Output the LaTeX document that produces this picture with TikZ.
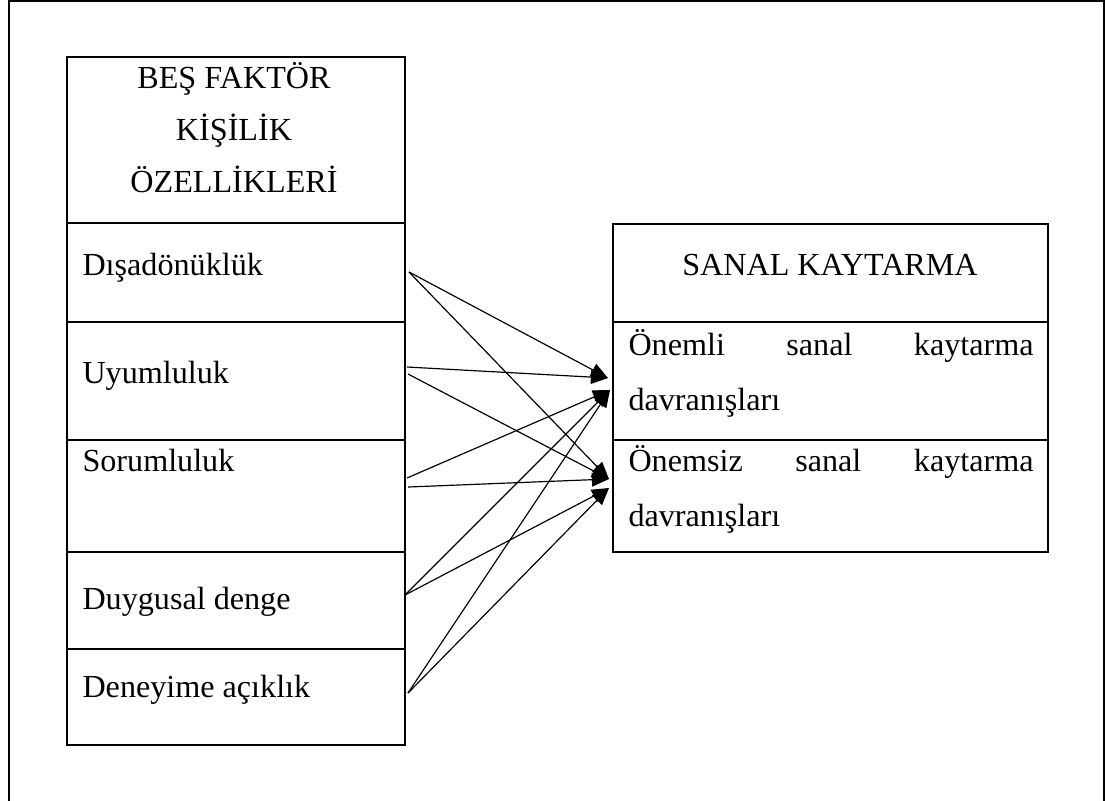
\documentclass[tikz,border=0pt]{standalone}
\usepackage{fontspec}
\setmainfont{Liberation Serif}
\usetikzlibrary{arrows.meta}

\begin{document}
\begin{tikzpicture}[x=0.3795pt, y=-0.3795pt,
	lbl/.style = {inner sep=0pt, anchor=base west, font=\fontsize{12.2}{20}\selectfont},
	box/.style = {line width=0.75pt},
	arr/.style = {line width=0.45pt, -{Triangle[length=6.5pt,width=5.2pt]}}]
	\useasboundingbox (0,0) rectangle (1105,800);
	\draw[line width=0.9pt] (9,802) -- (9,1) -- (1104,1) -- (1104,802);
	% left box
	\draw[box] (67,57) rectangle (405,745);
	\foreach \y in {223,322,440,552,649}
		\draw[box] (67,\y) -- (405,\y);
	% right box
	\draw[box] (613,224) rectangle (1048,552);
	\foreach \y in {322,440}
		\draw[box] (613,\y) -- (1048,\y);
	% texts
	\node[lbl, anchor=base, align=center, font=\fontsize{12.2}{19.7}\selectfont] (bes) at (234,192) {BEŞ FAKTÖR\\KİŞİLİK\\ÖZELLİKLERİ};
	\node[lbl] (disa) at (82,275) {Dışadönüklük};
	\node[lbl] (uyum) at (82,383) {Uyumluluk};
	\node[lbl] (sorum) at (82,471) {Sorumluluk};
	\node[lbl] (duyg) at (82,609) {Duygusal denge};
	\node[lbl] (dene) at (82,697) {Deneyime açıklık};
	\node[lbl, anchor=base] (sanal) at (830,275) {SANAL KAYTARMA};
	\node[lbl, text width=153.7pt, align=left, font=\fontsize{12.2}{21}\selectfont] (onemli) at (628,355)
		{\makebox[153.7pt][s]{Önemli\hfill sanal\hfill kaytarma}\\davranışları};
	\node[lbl, text width=153.7pt, align=left, font=\fontsize{12.2}{21}\selectfont] (onemsiz) at (628,471)
		{\makebox[153.7pt][s]{Önemsiz\hfill sanal\hfill kaytarma}\\davranışları};
	% arrow ends
	\coordinate (s1) at (409,272);
	\coordinate (s2a) at (407,367);
	\coordinate (s2b) at (408,374);
	\coordinate (s3a) at (407,478);
	\coordinate (s3b) at (408,487);
	\coordinate (s4) at (405,595);
	\coordinate (s5) at (408,693);
	\coordinate (t1) at (608,378);
	\coordinate (t2) at (610,390);
	\coordinate (t3) at (609,479);
	\coordinate (t4) at (609,488);
	\draw[arr] (s1) -- (t1);
	\draw[arr] (s1) -- (t3);
	\draw[arr] (s2a) -- (t1);
	\draw[arr] (s2b) -- (t3);
	\draw[arr] (s3a) -- (t2);
	\draw[arr] (s3b) -- (t3);
	\draw[arr] (s4) -- (t2);
	\draw[arr] (s4) -- (t4);
	\draw[arr] (s5) -- (t2);
	\draw[arr] (s5) -- (t4);
\end{tikzpicture}
\end{document}
